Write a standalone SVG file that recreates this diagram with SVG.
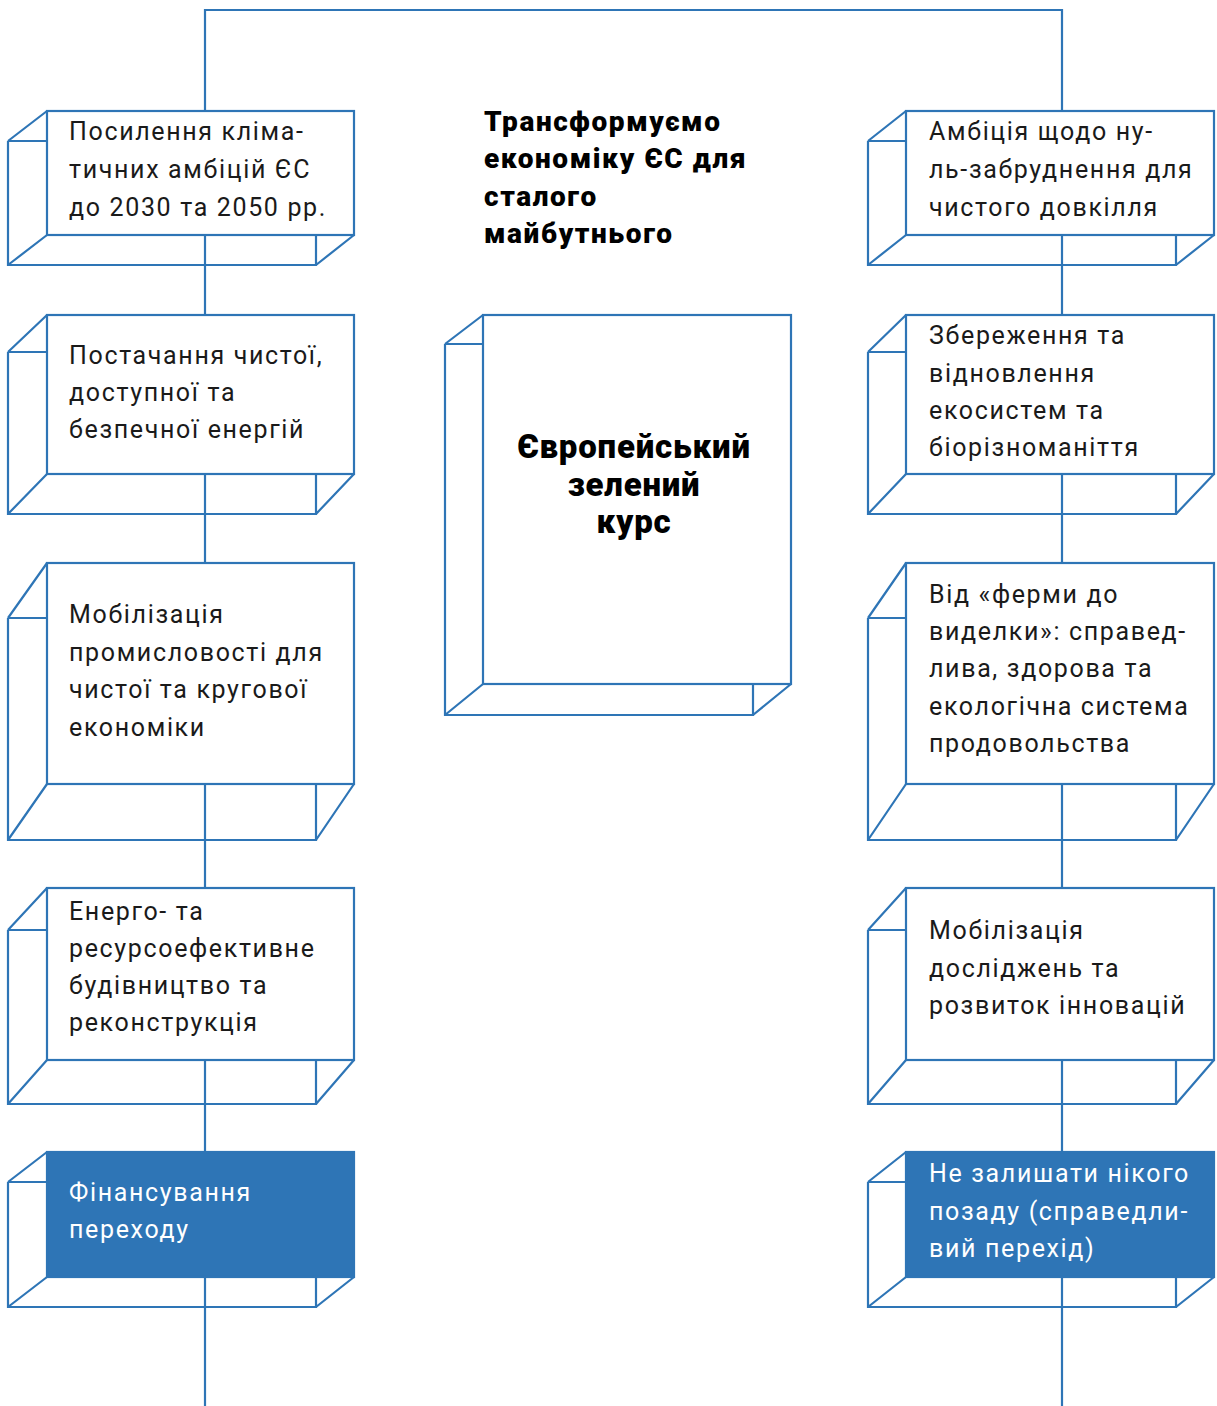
<svg xmlns="http://www.w3.org/2000/svg" width="1217" height="1406" viewBox="0 0 1217 1406">
<style>
.ln{stroke:#2e75b6;stroke-width:2.2;fill:none}
.fr{stroke:#2e75b6;stroke-width:2.2;fill:#fff}
.frf{stroke:#2e75b6;stroke-width:2.2;fill:#2e75b6}
.t{font-family:Roboto,"Liberation Sans",sans-serif;font-size:25px;fill:#1a1a1a;letter-spacing:1.65px}
.tw{font-family:Roboto,"Liberation Sans",sans-serif;font-size:25px;fill:#fff;letter-spacing:1.65px}
.h{font-family:Roboto,"Liberation Sans",sans-serif;font-size:28px;font-weight:900;fill:#000;letter-spacing:1.6px}
.c{font-family:Roboto,"Liberation Sans",sans-serif;font-size:33px;font-weight:900;fill:#000;text-anchor:middle;letter-spacing:0.8px}
</style>
<rect width="1217" height="1406" fill="#fff"/>
<g id="connectors">
<path class="ln" d="M205,10 H1062" stroke-width="3"/>
<path class="ln" d="M205,9 V1406 M1062,9 V1406"/>
</g>
<g id="title">
<text class="h"><tspan x="484" y="131">Трансформуємо</tspan><tspan x="484" y="168">економіку ЄС для</tspan><tspan x="484" y="206">сталого</tspan><tspan x="484" y="243">майбутнього</tspan></text>
</g>
<g id="center">
<path class="ln" d="M445,344 V715 H753 V684 M445,344 L483,315 M445,344 H483 M445,715 L483,684 M753,715 L791,684"/>
<rect class="fr" x="483" y="315" width="308" height="369"/>
<text class="c"><tspan x="634" y="458">Європейський</tspan><tspan x="634" y="496">зелений</tspan><tspan x="634" y="533">курс</tspan></text>
</g>
<g id="l1">
<path class="ln" d="M8,141 V265 H316 V235 M8,141 L47,111 M8,141 H47 M8,265 L47,235 M316,265 L354,235"/>
<rect class="fr" x="47" y="111" width="307" height="124"/>
<text class="t"><tspan x="69" y="140">Посилення кліма-</tspan><tspan x="69" y="178">тичних амбіцій ЄС</tspan><tspan x="69" y="216">до 2030 та 2050 рр.</tspan></text>
</g>
<g id="l2">
<path class="ln" d="M8,352 V514 H316 V474 M8,352 L47,315 M8,352 H47 M8,514 L47,474 M316,514 L354,474"/>
<rect class="fr" x="47" y="315" width="307" height="159"/>
<text class="t"><tspan x="69" y="364">Постачання чистої,</tspan><tspan x="69" y="401">доступної та</tspan><tspan x="69" y="438">безпечної енергій</tspan></text>
</g>
<g id="l3">
<path class="ln" d="M8,618 V840 H316 V784 M8,618 L47,563 M8,618 H47 M8,840 L47,784 M316,840 L354,784"/>
<rect class="fr" x="47" y="563" width="307" height="221"/>
<text class="t"><tspan x="69" y="623">Мобілізація</tspan><tspan x="69" y="661">промисловості для</tspan><tspan x="69" y="698">чистої та кругової</tspan><tspan x="69" y="736">економіки</tspan></text>
</g>
<g id="l4">
<path class="ln" d="M8,930 V1104 H316 V1060 M8,930 L47,888 M8,930 H47 M8,1104 L47,1060 M316,1104 L354,1060"/>
<rect class="fr" x="47" y="888" width="307" height="172"/>
<text class="t"><tspan x="69" y="920">Енерго- та</tspan><tspan x="69" y="957">ресурсоефективне</tspan><tspan x="69" y="994">будівництво та</tspan><tspan x="69" y="1031">реконструкція</tspan></text>
</g>
<g id="l5">
<path class="ln" d="M8,1182 V1307 H316 V1277 M8,1182 L47,1152 M8,1182 H47 M8,1307 L47,1277 M316,1307 L354,1277"/>
<rect class="frf" x="47" y="1152" width="307" height="125"/>
<text class="tw"><tspan x="69" y="1201">Фінансування</tspan><tspan x="69" y="1238">переходу</tspan></text>
</g>
<g id="r1">
<path class="ln" d="M868,141 V265 H1176 V235 M868,141 L906,111 M868,141 H906 M868,265 L906,235 M1176,265 L1214,235"/>
<rect class="fr" x="906" y="111" width="308" height="124"/>
<text class="t"><tspan x="929" y="140">Амбіція щодо ну-</tspan><tspan x="929" y="178">ль-забруднення для</tspan><tspan x="929" y="216">чистого довкілля</tspan></text>
</g>
<g id="r2">
<path class="ln" d="M868,352 V514 H1176 V474 M868,352 L906,315 M868,352 H906 M868,514 L906,474 M1176,514 L1214,474"/>
<rect class="fr" x="906" y="315" width="308" height="159"/>
<text class="t"><tspan x="929" y="344">Збереження та</tspan><tspan x="929" y="382">відновлення</tspan><tspan x="929" y="419">екосистем та</tspan><tspan x="929" y="456">біорізноманіття</tspan></text>
</g>
<g id="r3">
<path class="ln" d="M868,618 V840 H1176 V784 M868,618 L906,563 M868,618 H906 M868,840 L906,784 M1176,840 L1214,784"/>
<rect class="fr" x="906" y="563" width="308" height="221"/>
<text class="t"><tspan x="929" y="603">Від «ферми до</tspan><tspan x="929" y="640">виделки»: справед-</tspan><tspan x="929" y="677">лива, здорова та</tspan><tspan x="929" y="715">екологічна система</tspan><tspan x="929" y="752">продовольства</tspan></text>
</g>
<g id="r4">
<path class="ln" d="M868,930 V1104 H1176 V1060 M868,930 L906,888 M868,930 H906 M868,1104 L906,1060 M1176,1104 L1214,1060"/>
<rect class="fr" x="906" y="888" width="308" height="172"/>
<text class="t"><tspan x="929" y="939">Мобілізація</tspan><tspan x="929" y="977">досліджень та</tspan><tspan x="929" y="1014">розвиток інновацій</tspan></text>
</g>
<g id="r5">
<path class="ln" d="M868,1182 V1307 H1176 V1277 M868,1182 L906,1152 M868,1182 H906 M868,1307 L906,1277 M1176,1307 L1214,1277"/>
<rect class="frf" x="906" y="1152" width="308" height="125"/>
<text class="tw"><tspan x="929" y="1182">Не залишати нікого</tspan><tspan x="929" y="1220">позаду (справедли-</tspan><tspan x="929" y="1257">вий перехід)</tspan></text>
</g>
</svg>
